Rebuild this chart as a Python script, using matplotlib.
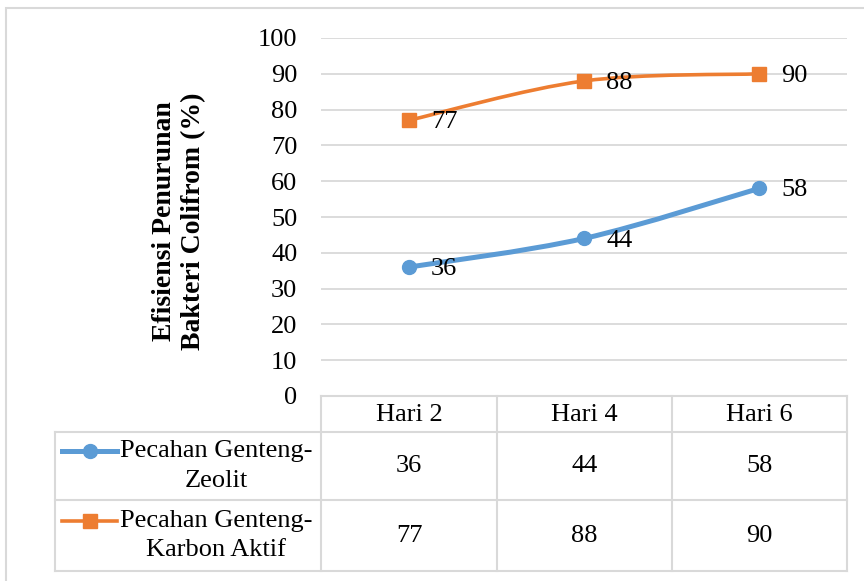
import numpy as np
import matplotlib
matplotlib.use("Agg")
import matplotlib.pyplot as plt
from matplotlib.path import Path
from matplotlib.patches import PathPatch, Rectangle
from matplotlib.lines import Line2D

categories = ["Hari 2", "Hari 4", "Hari 6"]
series_names = ["Pecahan Genteng-\nZeolit", "Pecahan Genteng-\nKarbon Aktif"]
zeolit = [36, 44, 58]
karbon = [77, 88, 90]
yticks = list(range(0, 101, 10))
ylabel = "Efisiensi Penurunan\nBakteri Colifrom (%)"

plt.rcParams['font.family'] = ['Liberation Serif', 'DejaVu Serif']
FS = 19

W, H = 864, 581
fig = plt.figure(figsize=(W/100, H/100), dpi=100)

def fx(px): return px / W
def fy(py): return 1 - py / H

L, R, T, B = 321, 847, 38, 396
ax = fig.add_axes([fx(L), fy(B), fx(R) - fx(L), fy(T) - fy(B)])
ax.set_xlim(-0.5, 2.5)
ax.set_ylim(0, 100)
ax.set_yticks(yticks)
ax.set_yticklabels([str(v) for v in yticks], fontsize=FS)
ax.set_xticks([])
for s in ax.spines.values():
    s.set_visible(False)
ax.tick_params(axis='y', length=0, pad=17)
ax.grid(axis='y', color='#D9D9D9', linewidth=1.3)
ax.set_axisbelow(True)

def smooth_path(xs, ys):
    pts = np.column_stack([xs, ys]).astype(float)
    n = len(pts)
    verts = [pts[0]]
    codes = [Path.MOVETO]
    for i in range(n - 1):
        p0 = pts[i - 1] if i > 0 else pts[i]
        p1 = pts[i]
        p2 = pts[i + 1]
        p3 = pts[i + 2] if i + 2 < n else pts[i + 1]
        c1 = p1 + (p2 - p0) / 6
        c2 = p2 - (p3 - p1) / 6
        verts += [c1, c2, p2]
        codes += [Path.CURVE4] * 3
    return Path(verts, codes)

xs = np.arange(len(categories))
colors = ['#5B9BD5', '#ED7D31']
markers = ['o', 's']
lws = [3.6, 2.6]
for vals, c, m, lw in zip([zeolit, karbon], colors, markers, lws):
    ax.add_patch(PathPatch(smooth_path(xs, vals), facecolor='none', edgecolor=c,
                           linewidth=lw, capstyle='round', zorder=3))
    ax.plot(xs, vals, linestyle='none', marker=m, markersize=10, color=c, zorder=4)
    for x, v in zip(xs, vals):
        ax.annotate(str(v), (x, v), xytext=(16, -1.5), textcoords='offset points',
                    ha='left', va='center', fontsize=FS, zorder=5)

fig.text(fx(179), fy(221), ylabel, rotation=90, ha='center', va='center',
         fontsize=20, fontweight='bold', linespacing=1.2)

# data table
gc = '#D9D9D9'
cols = [321, 497, 672, 847]
rows = [396, 432, 500, 571]
leg_left = 55
def hline(y, x0, x1):
    fig.add_artist(Line2D([fx(x0), fx(x1)], [fy(y), fy(y)], color=gc, lw=1.5))
def vline(x, y0, y1):
    fig.add_artist(Line2D([fx(x), fx(x)], [fy(y0), fy(y1)], color=gc, lw=1.5))

hline(rows[0], cols[0], cols[-1])
for y in rows[1:]:
    hline(y, leg_left, cols[-1])
vline(leg_left, rows[1], rows[-1])
for x in cols:
    vline(x, rows[0], rows[-1])

for i, cat in enumerate(categories):
    cx = (cols[i] + cols[i + 1]) / 2
    fig.text(fx(cx), fy((rows[0] + rows[1]) / 2 + 1), cat, ha='center', va='center', fontsize=FS)

for r, (name, vals, c, m, lw) in enumerate(zip(series_names, [zeolit, karbon], colors, markers, lws)):
    y0, y1 = rows[r + 1], rows[r + 2]
    cy = (y0 + y1) / 2
    for i, v in enumerate(vals):
        cx = (cols[i] + cols[i + 1]) / 2
        fig.text(fx(cx), fy(cy), str(v), ha='center', va='center', fontsize=FS)
    fig.text(fx(216), fy(cy), name, ha='center', va='center', fontsize=FS, linespacing=1.45)
    ly = cy - 15
    fig.add_artist(Line2D([fx(62), fx(117)], [fy(ly), fy(ly)], color=c, lw=lw))
    fig.add_artist(Line2D([fx(89.5)], [fy(ly)], color=c, marker=m, markersize=10, linestyle='none'))

# outer border
fig.add_artist(Rectangle((fx(6), fy(590)), fx(880) - fx(6), fy(8) - fy(590),
                         fill=False, edgecolor=gc, lw=1.5, transform=fig.transFigure))

fig.savefig("out.png", dpi=100)
